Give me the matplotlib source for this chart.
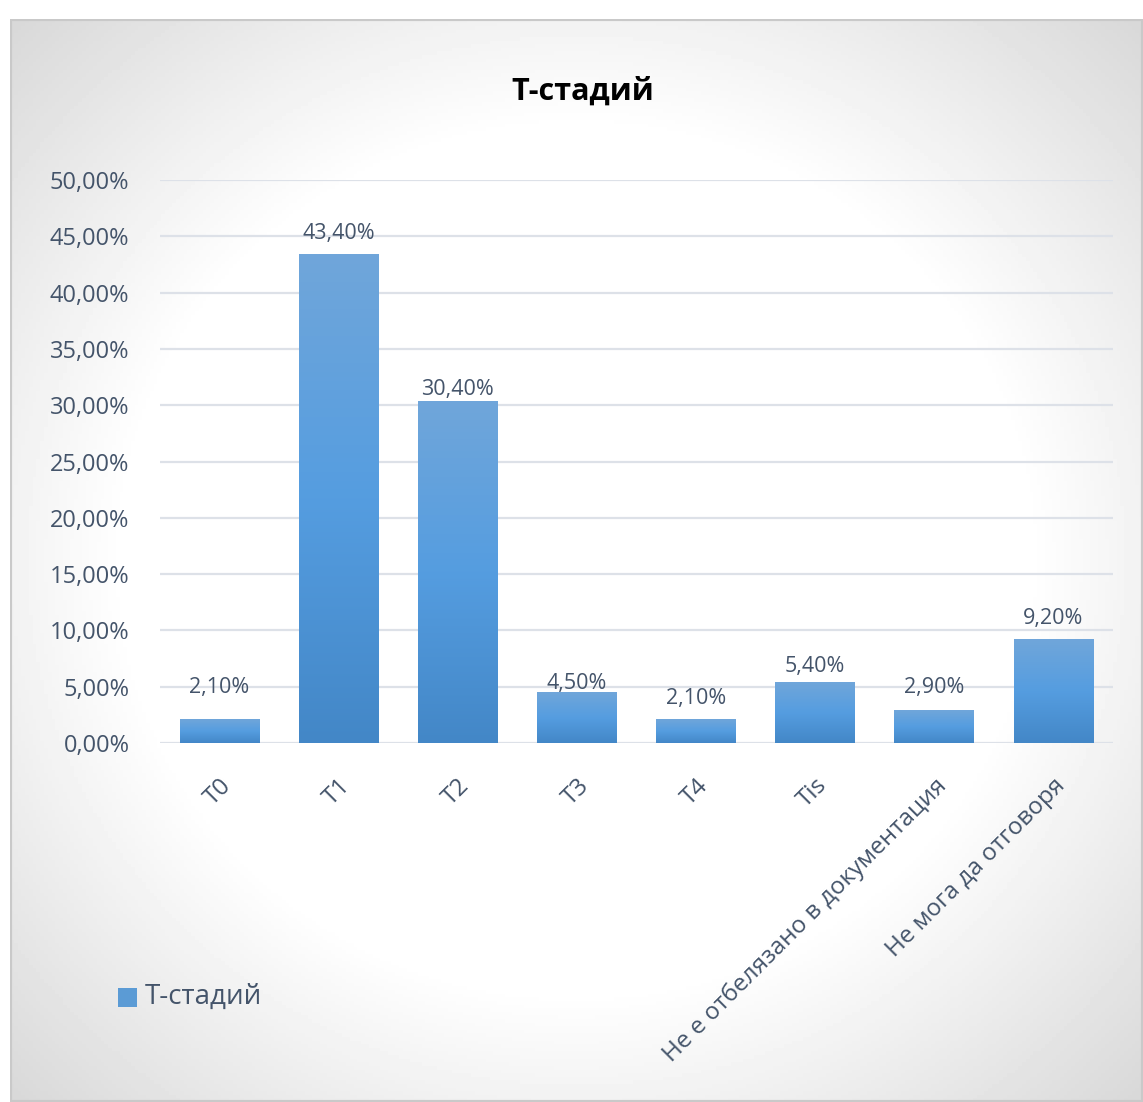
import matplotlib
matplotlib.use("Agg")
import matplotlib.pyplot as plt
import numpy as np
from matplotlib.colors import LinearSegmentedColormap
from matplotlib.patches import Rectangle
from matplotlib.transforms import ScaledTranslation

plt.rcParams['font.family'] = ['Open Sans', 'DejaVu Sans']

categories = ['T0', 'T1', 'T2', 'T3', 'T4', 'Tis',
              'Не е отбелязано в документация', 'Не мога да отговоря']
values = [0.021, 0.434, 0.304, 0.045, 0.021, 0.054, 0.029, 0.092]
series_name = 'Т-стадий'
title = 'Т-стадий'
yticks = [0.0, 0.05, 0.10, 0.15, 0.20, 0.25, 0.30, 0.35, 0.40, 0.45, 0.50]
# gap (px) between bar top and data-label centre, labels were moved by hand
label_gaps = [34, 23, 14, 11, 23, 18, 25, 23]

text_color = '#44546A'
W, H = 1143, 1102
fig = plt.figure(figsize=(W / 100, H / 100), dpi=100)
fig.patch.set_facecolor('white')

# chart area background: radial gradient
bg = fig.add_axes([10 / W, 0, 1 - 10 / W, (H - 19) / H], zorder=-10)
yy, xx = np.mgrid[-1:1:300j, -1:1:300j]
r = np.sqrt(xx ** 2 + yy ** 2)
shade = 1 - 0.15 * np.clip((r - 0.8) / 0.6, 0, 1)
bg.imshow(shade, cmap='gray', vmin=0, vmax=1, extent=(0, 1, 0, 1), aspect='auto')
bg.add_patch(Rectangle((0, 0), 1, 1, fill=False, edgecolor='#c9c9c9', lw=3,
                       transform=bg.transAxes))
bg.set_axis_off()

ax = fig.add_axes([160 / W, 359 / H, (1113 - 160) / W, (743 - 180) / H])
ax.set_facecolor('none')
x = np.arange(len(categories))
bars = ax.bar(x, values, width=0.67, color='#5b9bd5', zorder=2)

# gradient fill for bars
cmap = LinearSegmentedColormap.from_list('bar', ['#4387c7', '#559de0', '#70a6da'])
grad = np.linspace(0, 1, 256).reshape(-1, 1)
for b, gap in zip(bars, label_gaps):
    x0, y0 = b.get_x(), b.get_y()
    w, h = b.get_width(), b.get_height()
    im = ax.imshow(grad, cmap=cmap, origin='lower', aspect='auto',
                   extent=(x0, x0 + w, y0, y0 + h), zorder=3)
    im.set_clip_path(b)
    ax.annotate(f"{h * 100:.2f}%".replace('.', ','), (x0 + w / 2, h),
                xytext=(0, (gap - 8) * 0.72), textcoords='offset points',
                ha='center', va='baseline', fontsize=15.5, color=text_color,
                zorder=4)
ax.set_xlim(-0.5, len(categories) - 0.5)
ax.set_ylim(0, 0.5)

ax.set_yticks(yticks)
ax.set_yticklabels([f"{v * 100:.2f}%".replace('.', ',') for v in yticks],
                   fontsize=17, color=text_color)
ax.set_xticks(x)
ax.set_xticklabels(categories, rotation=45, ha='right', rotation_mode='anchor',
                   fontsize=17.5, color=text_color)
shift = ScaledTranslation(-11 / 100, 4 / 100, fig.dpi_scale_trans)
for lbl in ax.get_xticklabels():
    lbl.set_transform(lbl.get_transform() + shift)
ax.tick_params(axis='both', length=0)
ax.tick_params(axis='y', pad=22)
ax.tick_params(axis='x', pad=22)
ax.grid(axis='y', color='#dde1e8', lw=1.6, zorder=0)
for s in ax.spines.values():
    s.set_visible(False)

fig.text(583 / W, 1 - 92 / H, title, ha='center', va='center',
         fontsize=22, fontweight='bold', color='black')

# legend
fig.patches.append(Rectangle((118 / W, 1 - 1007 / H), 19 / W, 19 / H,
                             facecolor='#5b9bd5', edgecolor='none',
                             transform=fig.transFigure, figure=fig))
fig.text(145 / W, 1 - 997 / H, series_name, ha='left', va='center',
         fontsize=20, color=text_color)

fig.savefig('out.png', dpi=100)
